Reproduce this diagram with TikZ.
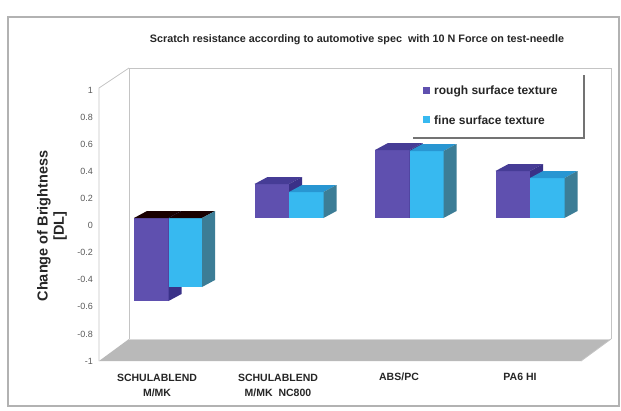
\documentclass[tikz,border=0pt]{standalone}
\usepackage{fontspec}
\setmainfont{Liberation Sans}
\definecolor{roughF}{HTML}{5F50AF}
\definecolor{roughT}{HTML}{463C96}
\definecolor{roughS}{HTML}{3A3188}
\definecolor{fineF}{HTML}{37B9F0}
\definecolor{fineT}{HTML}{2896D2}
\definecolor{fineS}{HTML}{3C7D96}
\definecolor{wallline}{HTML}{C4C4C4}
\definecolor{floorgray}{HTML}{B9B9B9}
\definecolor{ticktext}{HTML}{5A5A5A}
\newcommand{\cuboid}[7]{%
  \fill[#5] (#1,#3) rectangle (#2,#4);
  \fill[#6] (#1,#3) -- ++(13,-7) -- ({#2+13},{#3-7}) -- (#2,#3) -- cycle;
  \fill[#7] (#2,#3) -- ++(13,-7) -- ({#2+13},{#4-7}) -- (#2,#4) -- cycle;
}
\tikzset{
  ticklbl/.style={anchor=east, inner sep=0pt, text=ticktext, font=\fontsize{9}{10}\selectfont},
  catlbl/.style={anchor=center, inner sep=0pt, text=black!85, font=\bfseries\fontsize{10.5}{12}\selectfont, align=center},
  leglbl/.style={anchor=west, inner sep=0pt, text=black!85, font=\bfseries\fontsize{12}{14}\selectfont},
  wall/.style={draw=wallline, line width=0.8pt},
}
\begin{document}
\begin{tikzpicture}[x=1pt,y=-1pt]
\useasboundingbox (0,0) rectangle (621,410);
\fill[white] (0,0) rectangle (621,410);
% outer frame
\draw[draw=black!30, line width=1.2pt] (8,17) rectangle (619,406);
% title
\node[inner sep=0pt, text=black!85, font=\bfseries\fontsize{10.8}{12}\selectfont] (title) at (357,40) {Scratch resistance according to automotive spec\ \ with 10 N Force on test-needle};
% walls
\fill[floorgray] (99,361) -- (129,339) -- (611,339) -- (581,361) -- cycle;
\draw[white!85!black, line width=0.8pt] (129,339) -- (611,339);
\draw[wall] (129,339) -- (129,68) -- (611,68) -- (611,339);
\draw[wall] (99,361) -- (99,88) -- (129,68);
\draw[wall] (611,339) -- (581,361);
% tick labels
\foreach \v [count=\k from 0] in {1,0.8,0.6,0.4,0.2,0,-0.2,-0.4,-0.6,-0.8,-1}
  \node[ticklbl] (t\k) at (93,{90+\k*27.1}) {\v};
% axis title
\node[rotate=90, inner sep=0pt, font=\bfseries\fontsize{14.5}{16}\selectfont, text=black!85] (ylab1) at (44,226) {Change of Brightness};
\node[rotate=90, inner sep=0pt, font=\bfseries\fontsize{14.5}{16}\selectfont, text=black!85] (ylab2) at (60,226) {[DL]};
% bars group 1 (negative)
\cuboid{134}{168.5}{218}{301}{roughF}{black!90!red}{roughS}
\cuboid{168.5}{202}{218}{287}{fineF}{black!90!red}{fineS}
% group 2
\cuboid{254.5}{289}{184}{218}{roughF}{roughT}{roughS}
\cuboid{289}{323.5}{192}{218}{fineF}{fineT}{fineS}
% group 3
\cuboid{375}{409.5}{150}{218}{roughF}{roughT}{roughS}
\cuboid{409.5}{443.5}{151}{218}{fineF}{fineT}{fineS}
% group 4
\cuboid{495.5}{530}{171}{218}{roughF}{roughT}{roughS}
\cuboid{530}{564.5}{178}{218}{fineF}{fineT}{fineS}
% legend
\draw[black!55, line width=1.8pt] (413,138) -- (584,138) -- (584,75);
\fill[roughF] (423,87) rectangle (430,94);
\fill[fineF] (423,116) rectangle (430,123);
\node[leglbl] (leg1) at (434,91) {rough surface texture};
\node[leglbl] (leg2) at (434,120) {fine surface texture};
% category labels
\node[catlbl] (c1) at (157,385) {SCHULABLEND\\[3pt]M/MK};
\node[catlbl] (c2) at (278,385) {SCHULABLEND\\[3pt]M/MK\ \ NC800};
\node[catlbl] (c3) at (399,377) {ABS/PC};
\node[catlbl] (c4) at (520,377) {PA6 HI};
\end{tikzpicture}
\end{document}
